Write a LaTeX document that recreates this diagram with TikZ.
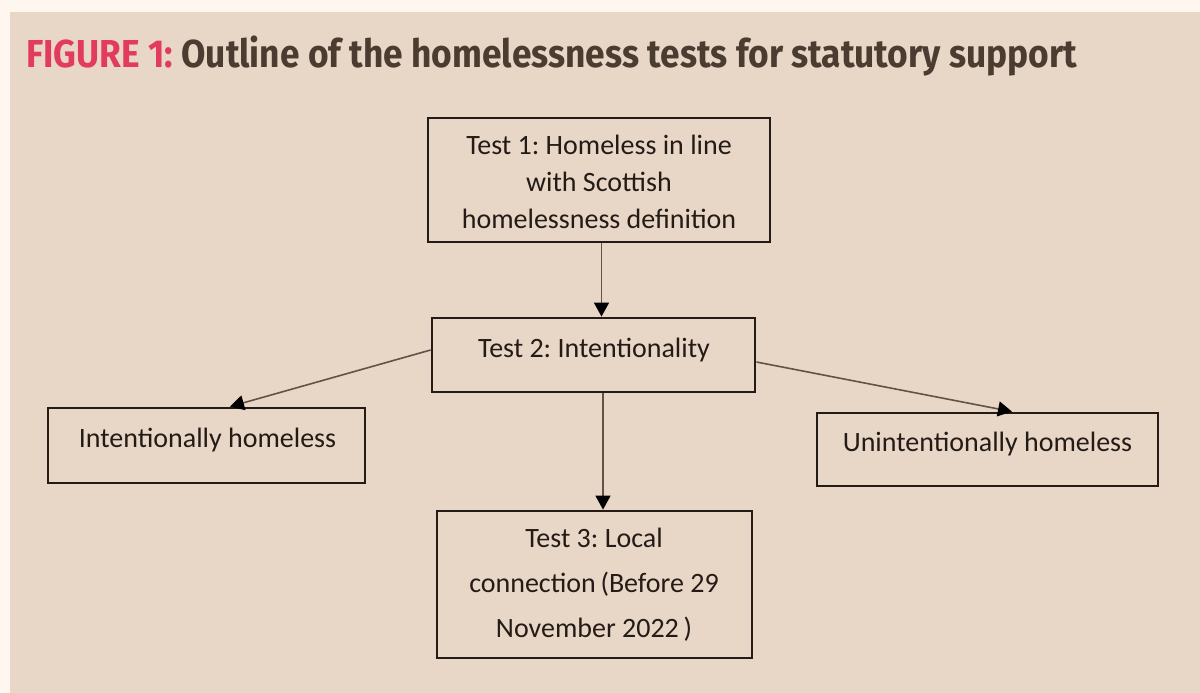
\documentclass[tikz,border=0pt]{standalone}
\usepackage{fontspec}
\usepackage{graphicx}
\setmainfont{Carlito}
\newfontfamily\headfont{Fira Sans}
\usetikzlibrary{arrows.meta}
\frenchspacing

\definecolor{pagewhite}{HTML}{FFF6F0}
\definecolor{panel}{HTML}{E8D7C7}
\definecolor{figpink}{HTML}{E33B5E}
\definecolor{headbrown}{HTML}{4B3C31}
\definecolor{inkdark}{HTML}{241B16}
\definecolor{linkgrey}{HTML}{62534A}

\begin{document}
\begin{tikzpicture}[x=1pt,y=-1pt,
  stepbox/.style={draw=inkdark, line width=2.8pt, inner sep=0pt, rectangle},
  boxtext/.style={anchor=base, inner sep=0pt, text=inkdark,
    font=\fontsize{28}{36.7}\selectfont, align=center},
  link/.style={draw=linkgrey, line width=1.6pt,
    -{Triangle[length=14pt,width=15pt,fill=black,color=black]}}]

% page and panel
\fill[pagewhite] (0,0) rectangle (1200,693);
\fill[panel] (10,12) rectangle (1200,693);
\useasboundingbox (0,0) rectangle (1200,693);

% heading
\node[anchor=base west, inner sep=0pt, font=\headfont\bfseries\fontsize{39}{39}\selectfont]
  (title) at (26,67)
  {\resizebox{1051pt}{\height}{\textcolor{figpink}{FIGURE 1:} \textcolor{headbrown}{Outline of the homelessness tests for statutory support}}};

% boxes
\node[stepbox, minimum width=342pt, minimum height=124pt] (t1) at (599,180) {};
\node[stepbox, minimum width=323pt, minimum height=74pt]  (t2) at (593.5,355) {};
\node[stepbox, minimum width=317pt, minimum height=75pt]  (il) at (206.5,445.5) {};
\node[stepbox, minimum width=341pt, minimum height=73pt]  (ul) at (987.5,449.5) {};
\node[stepbox, minimum width=315pt, minimum height=147pt] (t3) at (594.5,584.5) {};

% box texts (base anchor = baseline of the last line)
\node[boxtext] (t1txt) at (599,228) {Test 1: Homeless in line\\with Scottish\\homelessness definition};
\node[boxtext] (t2txt) at (594,357) {Test 2: Intentionality};
\node[boxtext] (iltxt) at (207.5,447) {Intentionally homeless};
\node[boxtext] (ultxt) at (987.5,451) {Unintentionally homeless};
\node[boxtext, font=\fontsize{28}{45}\selectfont] (t3txt) at (594,637)
  {Test 3: Local\\connection\,(Before 29\\November 2022\,)};

% connectors
\coordinate (d1) at ([xshift=2.5pt]t1.south);
\draw[link] (d1) -- (d1 |- t2.north);
\coordinate (d2) at ([xshift=9.5pt]t2.south);
\draw[link] (d2) -- (d2 |- t3.north);
\draw[link] ([yshift=5pt]t2.west) -- ([xshift=23.5pt]il.north);
\draw[link] ([yshift=-7pt]t2.east) -- ([xshift=24.5pt]ul.north);
\end{tikzpicture}
\end{document}
